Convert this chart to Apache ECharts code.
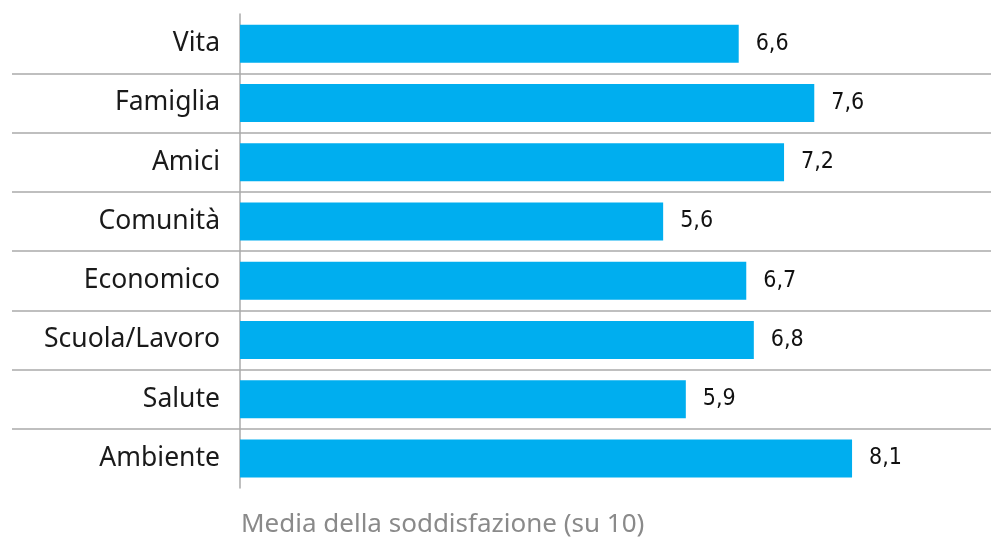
<!DOCTYPE html>
<html>
<head>
<meta charset="utf-8">
<script src="https://cdn.jsdelivr.net/npm/echarts@6/dist/echarts.min.js"></script>
<style>
  html, body { margin: 0; padding: 0; background: #fff; }
  #chart { width: 991px; height: 540px; }
</style>
</head>
<body>
<div id="chart"></div>
<script>
// categorie e valori medi
const categories = ['Vita', 'Famiglia', 'Amici', 'Comunità', 'Economico', 'Scuola/Lavoro', 'Salute', 'Ambiente'];
const values = [6.6, 7.6, 7.2, 5.6, 6.7, 6.8, 5.9, 8.1];
const axisTitle = 'Media della soddisfazione (su 10)';

const chart = echarts.init(document.getElementById('chart'));
chart.setOption({
  animation: false,
  title: {
    text: axisTitle,
    left: 241,
    top: 512,
    padding: 0,
    textStyle: { fontFamily: 'Noto Sans', fontSize: 26, fontWeight: 'normal', color: '#8a8a8a' }
  },
  grid: [
    { left: 240, top: 14, width: 725.4, height: 474 },
    { left: 12, top: 14, right: 0, height: 474 }
  ],
  xAxis: [
    { gridIndex: 0, type: 'value', min: 0, max: 9.6, show: false },
    { gridIndex: 1, type: 'value', min: 0, max: 1, show: false }
  ],
  yAxis: [
    {
      gridIndex: 0,
      type: 'category',
      data: categories,
      inverse: true,
      axisLine: { show: true, lineStyle: { color: '#aaa', width: 1.5 } },
      axisTick: { show: false },
      axisLabel: {
        margin: 20,
        fontFamily: 'Noto Sans',
        fontSize: 26.5,
        color: '#1a1a1a'
      },
      splitLine: { show: false }
    },
    {
      // linee di separazione tra le categorie
      gridIndex: 1,
      type: 'category',
      data: categories,
      inverse: true,
      axisLine: { show: false },
      axisTick: { show: false },
      axisLabel: { show: false },
      splitLine: {
        show: true,
        interval: 0,
        showMinLine: false,
        showMaxLine: false,
        lineStyle: { color: '#aaa', width: 1.5 }
      }
    }
  ],
  series: [{
    type: 'bar',
    xAxisIndex: 0,
    yAxisIndex: 0,
    data: values,
    barWidth: 38,
    itemStyle: { color: '#00aeef' },
    label: {
      show: true,
      position: 'right',
      distance: 17,
      fontFamily: '"Liberation Sans Narrow", "DejaVu Sans Condensed", Roboto, sans-serif',
      fontSize: 23,
      fontWeight: 500,
      color: '#111',
      formatter: p => p.value.toFixed(1).replace('.', ',')
    }
  }]
});
</script>
</body>
</html>
